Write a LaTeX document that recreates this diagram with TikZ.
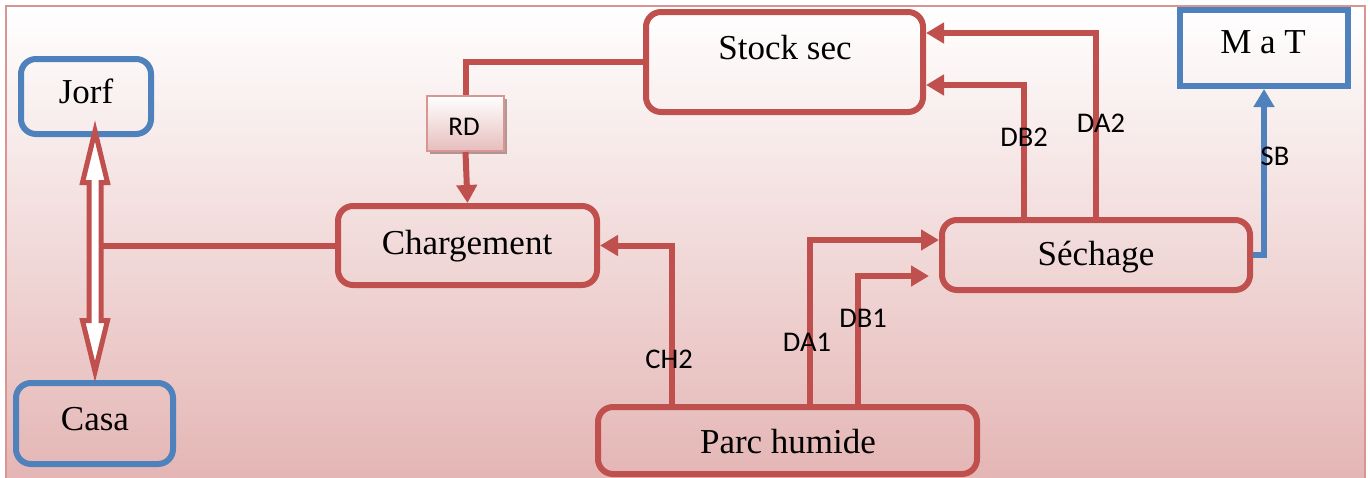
\documentclass[tikz,border=0pt]{standalone}
\usepackage{fontspec}
\setmainfont{Liberation Serif}
\newfontfamily\lblfont{Carlito}
\usetikzlibrary{arrows.meta,calc,shadows}
\definecolor{boxred}{HTML}{C0504D}
\definecolor{boxblue}{HTML}{4F81BD}
\definecolor{pinkbot}{HTML}{E4B6B5}
\definecolor{framepink}{HTML}{D99594}

\begin{document}
\begin{tikzpicture}[x=1pt,y=-1pt,
  redbox/.style={draw=boxred, line width=6pt, rounded corners=15pt, inner sep=0pt},
  bluebox/.style={draw=boxblue, line width=6pt, rounded corners=15pt, inner sep=0pt},
  squarebox/.style={draw=boxblue, line width=6pt, inner sep=0pt},
  boxtext/.style={font=\fontsize{35}{40}\selectfont, inner sep=0pt, anchor=base},
  flowlbl/.style={font=\lblfont\fontsize{28.5}{32}\selectfont, inner sep=0pt},
  link/.style={draw=boxred, line width=6pt},
  flow/.style={link, -{Triangle[length=18pt,width=20pt]}},
  bflow/.style={draw=boxblue, line width=6pt, -{Triangle[length=18pt,width=20pt]}},
  rdbox/.style={draw=framepink, line width=2pt, top color=white, bottom color=pinkbot!90!white,
    inner sep=0pt, drop shadow={shadow xshift=3pt, shadow yshift=-3pt, fill=framepink!55!black, opacity=0.55}},
  twoway/.style={draw=boxred, fill=white, line width=5pt}
]
\useasboundingbox (0,0) rectangle (1370,477);
\clip (0,0) rectangle (1370,477);

% background and frame
\fill[white] (0,0) rectangle (1370,477);
\shade[top color=white, bottom color=pinkbot] (6,6) rectangle (1365,477);
\draw[framepink, line width=2.5pt] (6,490) -- (6,6) -- (1365,6) -- (1365,490);

% boxes
\node[redbox, minimum width=277pt, minimum height=100pt] (stock) at (784.5,62) {};
\node[boxtext] (stocktxt) at (785,59) {Stock sec};

\node[redbox, minimum width=259pt, minimum height=79pt] (charg) at (467.5,245.5) {};
\node[boxtext] (chargtxt) at (467,254) {Chargement};

\node[redbox, minimum width=308pt, minimum height=70pt] (sech) at (1096,255) {};
\node[boxtext] (sechtxt) at (1096,265) {Séchage};

\node[redbox, minimum width=379pt, minimum height=67pt] (parc) at (787.5,440.5) {};
\node[boxtext] (parctxt) at (788,453) {Parc humide};

\node[bluebox, minimum width=130pt, minimum height=75pt] (jorf) at (86,96.5) {};
\node[boxtext] (jorftxt) at (86,103) {Jorf};

\node[bluebox, minimum width=157pt, minimum height=81pt] (casa) at (94.5,423.5) {};
\node[boxtext] (casatxt) at (95,430) {Casa};

\node[squarebox, minimum width=168pt, minimum height=76pt] (mat) at (1264,48) {};
\node[boxtext] (mattxt) at (1263,53) {M a T};

\node[rdbox, minimum width=77pt, minimum height=55pt] (rd) at (465.5,123.5) {};
\node[font=\lblfont\fontsize{27}{30}\selectfont, inner sep=0pt, anchor=base] (rdtxt) at (464,135) {RD};

% reference columns for the vertical runs
\coordinate (ch2x) at (672,0);
\coordinate (da1x) at (810,0);
\coordinate (db1x) at (858,0);
\coordinate (db2x) at (1024,0);
\coordinate (da2x) at (1096,0);
\coordinate (jtip) at (95,131);
\coordinate (ctip) at (95,371.5);

% connectors
\draw[link] (stock.west) -| (rd.north);
\draw[flow] (rd.south) -- (charg.north);
\draw[link] (charg.west) -- (charg.west -| jtip);
\draw[flow] (parc.north -| ch2x) |- (charg.east);
\draw[flow] (parc.north -| da1x) |- ($(sech.west)+(0,-15)$);
\draw[flow] (parc.north -| db1x) |- ($(sech.west)+(-10,21)$);
\draw[flow] (sech.north -| db2x) |- ($(stock.east)+(0,23)$);
\draw[flow] (sech.north -| da2x) |- ($(stock.east)+(0,-29)$);
\draw[bflow] (sech.east) -| (mat.south);

% two-way hollow arrow between Jorf and Casa
\draw[twoway] (jtip) -- ($(jtip)+(12.5,51.5)$) -- ($(jtip)+(6,51.5)$)
  -- ($(ctip)+(6,-51)$) -- ($(ctip)+(12.5,-51)$) -- (ctip)
  -- ($(ctip)+(-12.5,-51)$) -- ($(ctip)+(-6,-51)$)
  -- ($(jtip)+(-6,51.5)$) -- ($(jtip)+(-12.5,51.5)$) -- cycle;

% flow labels
\node[flowlbl] (ch2) at (669,359) {CH2};
\node[flowlbl] (da1) at (807,342) {DA1};
\node[flowlbl] (db1) at (863,318) {DB1};
\node[flowlbl] (db2) at (1024,137) {DB2};
\node[flowlbl] (da2) at (1101,123) {DA2};
\node[flowlbl] (sb) at (1275,156) {SB};
\end{tikzpicture}
\end{document}
